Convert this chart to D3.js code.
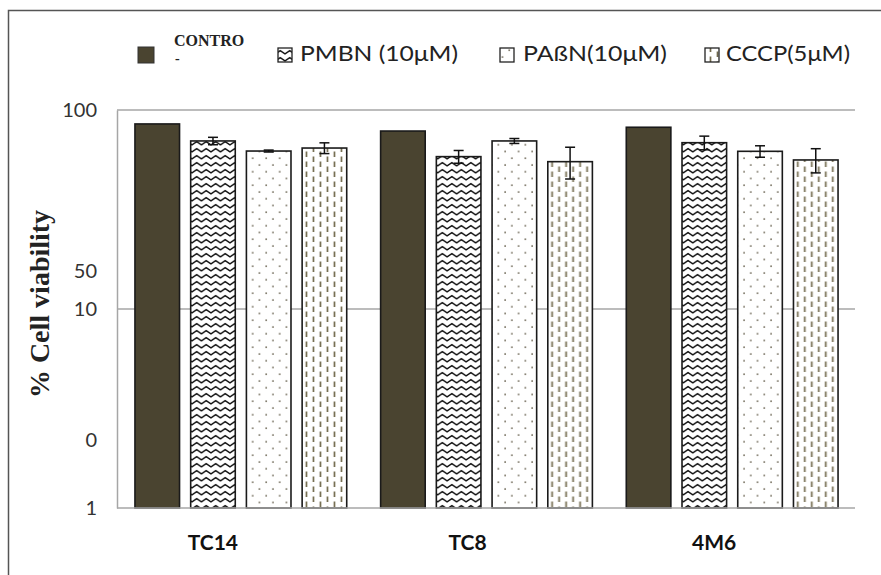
<!DOCTYPE html>
<html><head><meta charset="utf-8">
<script src="https://cdn.jsdelivr.net/npm/d3@7"></script>
<style>body{margin:0;background:#fff}svg{display:block}</style>
</head><body><svg id="c" width="881" height="575"></svg>
<script>
const categories = ["TC14", "TC8", "4M6"];
const seriesNames = ["CONTRO", "PMBN (10μM)", "PAßN(10μM)", "CCCP(5μM)"];
const control = [85.1, 78.4, 81.9];
const pmbn = [69.9, 58.3, 68.5];
const pabn = [62.2, 69.9, 62.0];
const cccp = [64.4, 55.0, 56.1];
const controlErr = [0, 0, 0];
const pmbnErr = [3.0, 4.3, 5.4];
const pabnErr = [0.7, 2.0, 4.1];
const cccpErr = [4.0, 10.0, 7.8];
const tickValues = [100, 15.5, 10, 2.2, 1];
const tickLabels = ["100", "50", "10", "0", "1"];
const gridValues = [100, 10];

const series = [control, pmbn, pabn, cccp];
const errs = [controlErr, pmbnErr, pabnErr, cccpErr];
const fills = ["#4a4430", "url(#zig)", "url(#dots)", "url(#dash)"];

const svg = d3.select("#c");
const defs = svg.append("defs");
// zigzag
const pz = defs.append("pattern").attr("id","zig").attr("patternUnits","userSpaceOnUse")
  .attr("width",9.5).attr("height",7);
pz.append("rect").attr("width",9.5).attr("height",7).attr("fill","#fff");
pz.append("path").attr("d","M-0.5,5.2 L4.75,1.6 L10,5.2").attr("fill","none").attr("stroke","#111").attr("stroke-width",1.3);
// dots
const pd = defs.append("pattern").attr("id","dots").attr("patternUnits","userSpaceOnUse")
  .attr("width",13.5).attr("height",13.5);
pd.append("rect").attr("width",13.5).attr("height",13.5).attr("fill","#fff");
pd.append("circle").attr("cx",3).attr("cy",3).attr("r",0.9).attr("fill","#5f5845");
pd.append("circle").attr("cx",9.75).attr("cy",9.75).attr("r",0.9).attr("fill","#5f5845");
// dashes
const pdash = defs.append("pattern").attr("id","dash").attr("patternUnits","userSpaceOnUse")
  .attr("width",14).attr("height",10);
pdash.append("rect").attr("width",14).attr("height",10).attr("fill","#fff");
[[3.5,1.5,7],[10.5,6.5,12],[10.5,-3.5,2]].forEach(d=>{
  pdash.append("line").attr("x1",d[0]).attr("x2",d[0]).attr("y1",d[1]).attr("y2",d[2])
    .attr("stroke","#736b4e").attr("stroke-width",1.7);
});

// outer frame
svg.append("path").attr("d","M8.5,575 L8.5,10.5 L881,10.5").attr("fill","none").attr("stroke","#555").attr("stroke-width",1.5);

const x0 = d3.scaleBand().domain(categories).range([118, 855]).paddingInner(0.138).paddingOuter(0.069);
const x1 = d3.scaleBand().domain(d3.range(4)).range([0, x0.bandwidth()]).paddingInner(0.2).paddingOuter(0);
const y = d3.scaleLog().domain([1, 100]).range([508, 110]);

// gridlines
svg.append("g").selectAll("line").data(gridValues).join("line")
  .attr("x1",117).attr("x2",855).attr("y1",d=>y(d)).attr("y2",d=>y(d))
  .attr("stroke","#a6a6a6").attr("stroke-width",1.5);

// y axis
const yAxis = d3.axisLeft(y).tickValues(tickValues).tickFormat((d,i)=>tickLabels[i]).tickSize(0).tickPadding(20);
const ga = svg.append("g").attr("transform","translate(117,0)").call(yAxis);
ga.select(".domain").attr("stroke","#a6a6a6").attr("stroke-width",1.5);
ga.selectAll("text").attr("font-family","Lato, sans-serif").attr("font-size",20).attr("fill","#333");

// bars
const groups = svg.append("g").selectAll("g").data(categories).join("g")
  .attr("transform",d=>`translate(${x0(d)},0)`);
groups.selectAll("rect").data((c,ci)=>series.map((s,si)=>({si, v:s[ci], e:errs[si][ci]})))
  .join("rect")
  .attr("x",d=>x1(d.si)).attr("width",x1.bandwidth())
  .attr("y",d=>y(d.v)).attr("height",d=>y(1)-y(d.v))
  .attr("fill",d=>fills[d.si]).attr("stroke","#1a1a1a").attr("stroke-width",1.6);
// error bars
groups.selectAll("g.err").data((c,ci)=>series.map((s,si)=>({si, v:s[ci], e:errs[si][ci]})).filter(d=>d.e>0))
  .join("g").attr("class","err").each(function(d){
    const g = d3.select(this); const cx = x1(d.si)+x1.bandwidth()/2;
    const yt = y(d.v+d.e), yb = y(d.v-d.e);
    g.append("line").attr("x1",cx).attr("x2",cx).attr("y1",yt).attr("y2",yb).attr("stroke","#111").attr("stroke-width",1.5);
    g.append("line").attr("x1",cx-5).attr("x2",cx+5).attr("y1",yt).attr("y2",yt).attr("stroke","#111").attr("stroke-width",1.5);
    g.append("line").attr("x1",cx-5).attr("x2",cx+5).attr("y1",yb).attr("y2",yb).attr("stroke","#111").attr("stroke-width",1.5);
  });

// x axis baseline
svg.append("line").attr("x1",117).attr("x2",855).attr("y1",y(1)).attr("y2",y(1)).attr("stroke","#a6a6a6").attr("stroke-width",1.5);
const labelShift = [-28, -19, -18];
svg.append("g").selectAll("text").data(categories).join("text")
  .attr("x",(d,i)=>x0(d)+x0.bandwidth()/2+labelShift[i]).attr("y",550)
  .attr("text-anchor","middle").attr("font-family","Lato, sans-serif").attr("font-weight","bold")
  .attr("font-size",21).attr("fill","#111").text(d=>d);

// y title
svg.append("text").attr("transform","translate(49,304) rotate(-90)").attr("text-anchor","middle")
  .attr("font-family","'Liberation Serif', serif").attr("font-weight","bold").attr("font-size",28)
  .attr("fill","#222").text("% Cell viability");

// legend
const leg = svg.append("g");
leg.append("rect").attr("x",138).attr("y",47).attr("width",16).attr("height",16).attr("fill",fills[0]).attr("stroke","#333").attr("stroke-width",1);
leg.append("text").attr("x",174).attr("y",46).attr("font-family","'Liberation Serif', serif").attr("font-weight","bold")
  .attr("font-size",16).attr("fill","#222").text(seriesNames[0]);
leg.append("text").attr("x",175).attr("y",63).attr("font-family","'Liberation Serif', serif").attr("font-weight","bold")
  .attr("font-size",14).attr("fill","#222").text("-");
const legItems = [[278, 300, 158], [500, 523, 144], [705, 726, 124]];
legItems.forEach((p,i)=>{
  leg.append("rect").attr("x",p[0]).attr("y",48).attr("width",14).attr("height",14).attr("fill",fills[i+1]).attr("stroke","#222").attr("stroke-width",1.3);
  leg.append("text").attr("x",p[1]).attr("y",61).attr("font-family","Lato, sans-serif").attr("font-size",22)
    .attr("textLength",p[2]).attr("lengthAdjust","spacingAndGlyphs")
    .attr("fill","#222").text(seriesNames[i+1]);
});
</script></body></html>
